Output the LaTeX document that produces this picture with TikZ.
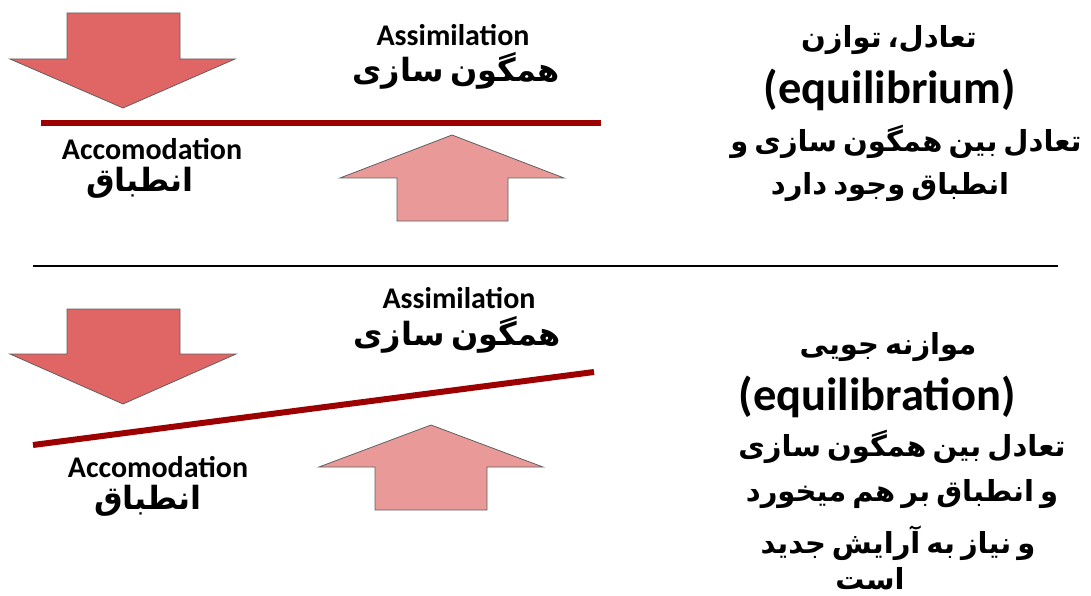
\documentclass[tikz,border=0pt]{standalone}
\usepackage{fontspec}
\setmainfont{Carlito}
\newfontfamily\persianfont[Script=Arabic, WordSpace=0.6]{DejaVu Sans}
\TeXXeTstate=1
\definecolor{DownRed}{HTML}{E06666}
\definecolor{UpPink}{HTML}{EA9999}
\definecolor{LevelRed}{HTML}{9C0000}
\definecolor{EdgeGray}{HTML}{606060}

\begin{document}
\begin{tikzpicture}[x=1pt, y=-1pt,
    downarr/.style={fill=DownRed, draw=EdgeGray, line width=0.8pt},
    uparr/.style={fill=UpPink, draw=EdgeGray, line width=0.8pt},
    level/.style={draw=LevelRed, line width=6pt},
    entxt/.style={font=\fontsize{30}{31}\selectfont\bfseries, inner sep=0pt},
    fatxt/.style={font=\persianfont\fontsize{32}{34}\selectfont\bfseries, inner sep=0pt},
    sidefa/.style={font=\persianfont\fontsize{29}{31}\selectfont\bfseries, inner sep=0pt},
    bigen/.style={font=\fontsize{46.5}{48}\selectfont\bfseries, inner sep=0pt}
  ]
    \useasboundingbox (0,0) rectangle (1091,596);

    % Top: equilibrium
    \draw[downarr] (67,13) -- (180,13) -- (180,59) -- (235,59) -- (123,108) -- (10,59) -- (67,59) -- cycle;
    \draw[uparr] (452,135) -- (564,178) -- (508,178) -- (508,221) -- (397,221) -- (397,178) -- (340,178) -- cycle;
    \coordinate (l1a) at (41,123);
    \coordinate (l1b) at (601,123);
    \draw[level] (l1a) -- (l1b);

    \node[entxt] (as1) at (453,35) {Assimilation};
    \node[fatxt] (as1fa) at (456,71) {\beginR همگون سازی\endR};
    \node[entxt] (ac1) at (152,149) {Accomodation};
    \node[fatxt] (ac1fa) at (140,183) {\beginR انطباق\endR};

    \node[sidefa] (eq1) at (889,40) {\beginR تعادل، توازن\endR};
    \node[bigen] (eq2) at (890,90) {(equilibrium)};
    \node[sidefa] (eq3) at (906,142) {\beginR تعادل بین همگون سازی و\endR};
    \node[sidefa] (eq4) at (890,187) {\beginR انطباق وجود دارد\endR};

    % Separator
    \coordinate (s1) at (33,266);
    \coordinate (s2) at (1058,266);
    \draw[line width=1.5pt] (s1) -- (s2);

    % Bottom: equilibration
    \draw[downarr] (67,309) -- (180,309) -- (180,354) -- (236,354) -- (123,404) -- (10,354) -- (67,354) -- cycle;
    \draw[uparr] (431,425) -- (543,467) -- (487,467) -- (487,510) -- (375,510) -- (375,467) -- (319,467) -- cycle;
    \coordinate (l2a) at (33,445);
    \coordinate (l2b) at (594,372);
    \draw[level] (l2a) -- (l2b);

    \node[entxt] (as2) at (459,298) {Assimilation};
    \node[fatxt] (as2fa) at (457,335) {\beginR همگون سازی\endR};
    \node[entxt] (ac2) at (158,467) {Accomodation};
    \node[fatxt] (ac2fa) at (148,501) {\beginR انطباق\endR};

    \node[sidefa] (eb1) at (888,347) {\beginR موازنه جویی\endR};
    \node[bigen] (eb2) at (877,397) {(equilibration)};
    \node[sidefa] (eb3) at (902,447) {\beginR تعادل بین همگون سازی\endR};
    \node[sidefa] (eb4) at (902,494) {\beginR و انطباق بر هم میخورد\endR};
    \node[sidefa] (eb5) at (898,543) {\beginR و نیاز به آرایش جدید\endR};
    \node[sidefa] (eb6) at (870,579) {\beginR است\endR};

  \end{tikzpicture}
\end{document}
